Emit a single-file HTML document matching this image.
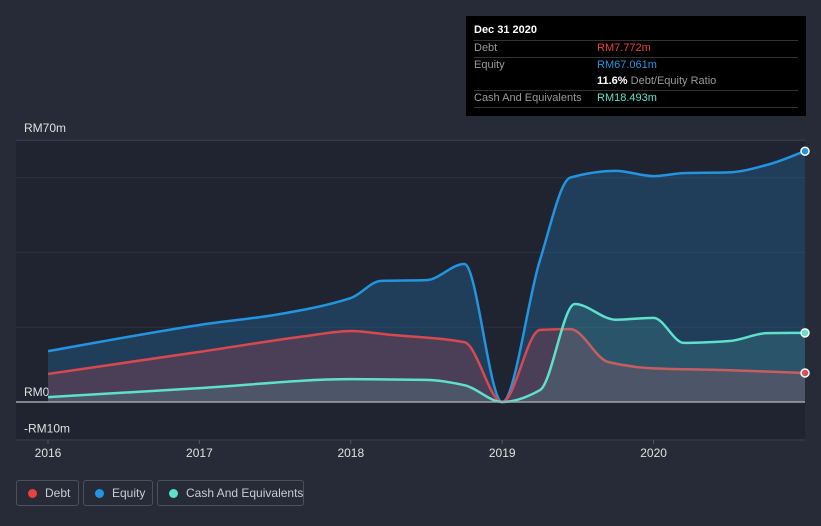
<!DOCTYPE html>
<html><head><meta charset="utf-8"><style>
html,body{margin:0;width:821px;height:526px;overflow:hidden}
body{background:#262b37;font-family:"Liberation Sans",sans-serif;position:relative}
.tt{position:absolute;left:466px;top:16px;width:340px;height:100px;background:#000;color:#fff;font-size:11px}
.tt div{position:absolute}
.sep{left:8px;width:324px;height:1px;background:#333}
.lg{position:absolute;top:480px;height:26px;border:1px solid #4a5060;border-radius:3px;color:#c8ccd4;font-size:12px;line-height:24px;box-sizing:border-box;padding-left:28px;white-space:nowrap}
.lg i{position:absolute;left:11px;top:8px;width:9px;height:9px;border-radius:50%}
</style></head><body>
<svg id="ch" width="821" height="526" style="position:absolute;left:0;top:0"></svg>
<div class="tt">
<div style="left:8px;top:8px;font-weight:bold">Dec 31 2020</div>
<div class="sep" style="top:24px"></div>
<div style="left:8px;top:26px;color:#999">Debt</div><div style="left:131px;top:26px;color:#e8423f">RM7.772m</div>
<div class="sep" style="top:41px"></div>
<div style="left:8px;top:43px;color:#999">Equity</div><div style="left:131px;top:43px;color:#2394e0">RM67.061m</div>
<div style="left:131px;top:59px"><b>11.6%</b> <span style="color:#999">Debt/Equity Ratio</span></div>
<div class="sep" style="top:74px"></div>
<div style="left:8px;top:76px;color:#999">Cash And Equivalents</div><div style="left:131px;top:76px;color:#5ee0cb">RM18.493m</div>
<div class="sep" style="top:91px"></div>
</div>
<div class="lg" style="left:16px;width:63px"><i style="background:#e8423f"></i>Debt</div>
<div class="lg" style="left:83px;width:70px"><i style="background:#2394e0"></i>Equity</div>
<div class="lg" style="left:157px;width:147px"><i style="background:#5ee0cb"></i>Cash And Equivalents</div>
<script>
const eqX=[2016,2017,2017.5,2018,2018.2,2018.5,2018.75,2019,2019.25,2019.45,2019.75,2020,2020.2,2020.5,2020.75,2021];
const eqY=[13.6,20.6,23.3,27.8,32.4,32.6,36.9,0,38,60,61.8,60.4,61.2,61.4,63.4,67.06];
const dbX=[2016,2017,2017.7,2018,2018.25,2018.75,2019,2019.25,2019.45,2019.7,2020,2020.5,2021];
const dbY=[7.5,13.4,17.6,19,18,16,0,19.3,19.5,10.7,9,8.5,7.77];
const caX=[2016,2017,2018,2018.5,2018.75,2019,2019.25,2019.48,2019.75,2020,2020.2,2020.5,2020.75,2021];
const caY=[1.3,3.7,6.1,5.9,4.5,0,3.2,26.2,22,22.5,15.8,16.3,18.4,18.49];
const yTicks=[70,0,-10], yLabels=["RM70m","RM0","-RM10m"], grid=[70,60,40,20];
const xTicks=[2016,2017,2018,2019,2020];
const sx=v=>48+(v-2016)*151.4, sy=v=>402-v*3.74;
const svg=document.getElementById('ch'), NS='http://www.w3.org/2000/svg';
function mk(t,a,p){const e=document.createElementNS(NS,t);for(const k in a)e.setAttribute(k,a[k]);(p||svg).appendChild(e);return e;}
const bg=mk('rect',{x:16,y:140,width:789,height:300,fill:'#1f2430'});


grid.forEach(g=>{const l=mk('line',{x1:16,x2:805,y1:sy(g),y2:sy(g),stroke:g==70?'#3c4250':'#2c323e','stroke-width':1});

});
mk('line',{x1:16,x2:805,y1:440,y2:440,stroke:'#3c4250'});
yTicks.forEach((t,i)=>{const e=mk('text',{x:24,y:sy(t)+(t==0?-6:t==70?-8:-7),fill:'#e0e0e0','font-size':12});e.textContent=yLabels[i];

});
xTicks.forEach(t=>{mk('line',{x1:sx(t),x2:sx(t),y1:440,y2:444,stroke:'#555'});const e=mk('text',{x:sx(t),y:457,fill:'#e0e0e0','font-size':12,'text-anchor':'middle'});e.textContent=t;

});
function path(X,Y){const p=X.map((x,i)=>[sx(x),sy(Y[i])]);const n=p.length;const m=[];const d=[];
for(let i=0;i<n-1;i++)d.push((p[i+1][1]-p[i][1])/(p[i+1][0]-p[i][0]));
for(let i=0;i<n;i++){if(i==0)m.push(d[0]);else if(i==n-1)m.push(d[n-2]);else m.push(d[i-1]*d[i]<=0?0:2/(1/d[i-1]+1/d[i]));}
let s=`M${p[0][0]},${p[0][1]}`;for(let i=0;i<n-1;i++){const h=(p[i+1][0]-p[i][0])/3;s+=`C${p[i][0]+h},${p[i][1]+m[i]*h} ${p[i+1][0]-h},${p[i+1][1]-m[i+1]*h} ${p[i+1][0]},${p[i+1][1]}`;}return s;}
function series(X,Y,col,fill,name){const d=path(X,Y);
const a=mk('path',{d:d+`L${sx(X[X.length-1])},402L${sx(X[0])},402Z`,fill:fill});


const l=mk('path',{d:d,fill:'none',stroke:col,'stroke-width':2.5});


const c=mk('circle',{cx:sx(X[X.length-1]),cy:sy(Y[Y.length-1]),r:4,fill:col,stroke:'#fff','stroke-width':1.5});

}
series(eqX,eqY,'#2394e0','rgba(35,120,190,0.3)','equity');
series(dbX,dbY,'#d9484f','rgba(200,70,80,0.25)','debt');
series(caX,caY,'#5ee0cb','rgba(94,224,203,0.15)','cash');
const z=mk('line',{x1:16,x2:805,y1:402,y2:402,stroke:'#a0a4ac','stroke-width':1.5});


</script>
</body></html>
